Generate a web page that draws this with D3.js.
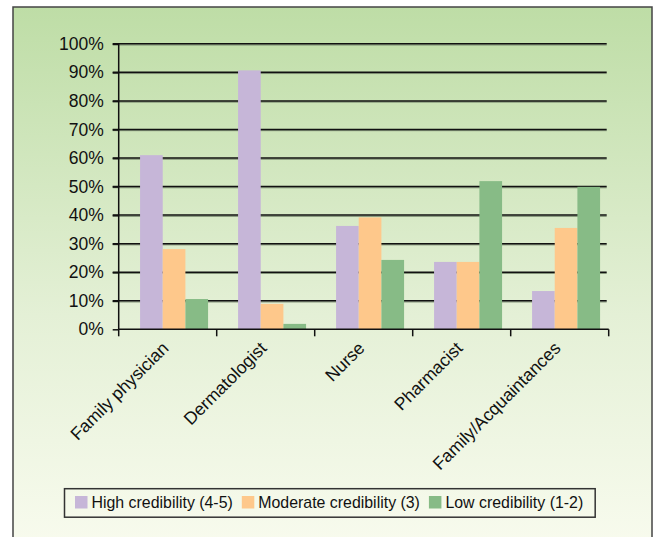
<!DOCTYPE html>
<html>
<head>
<meta charset="utf-8">
<script src="https://cdn.jsdelivr.net/npm/d3@7"></script>
<style>
  body { margin: 0; background: #fff; }
  svg text { font-family: "Liberation Sans", Arial, Helvetica, sans-serif; fill: #111; }
</style>
</head>
<body>
<script>
var categories = ["Family physician", "Dermatologist", "Nurse", "Pharmacist", "Family/Acquaintances"];
var seriesNames = ["High credibility (4-5)", "Moderate credibility (3)", "Low credibility (1-2)"];
var highValues = [61.0, 90.7, 36.2, 23.6, 13.4];
var moderateValues = [28.1, 8.9, 39.2, 23.6, 35.5];
var lowValues = [10.6, 1.9, 24.3, 51.9, 49.9];
var yTicks = [0, 10, 20, 30, 40, 50, 60, 70, 80, 90, 100];
var colors = ["#c6b6d8", "#fec88b", "#87bb86"];

function init(){
    var w = 653;
    var h = 537;
    var left = 118.7, right = 608.7, top = 43.8, bottom = 329.3;

    var dataset = categories.map(function(c, i) {
        return { name: c, values: [highValues[i], moderateValues[i], lowValues[i]] };
    });

    var svg = d3.select("body")
                .append("svg")
                .attr("width", w)
                .attr("height", h);

    var defs = svg.append("defs");
    var grad = defs.append("linearGradient")
                   .attr("id", "bg")
                   .attr("x1", 0).attr("y1", 0)
                   .attr("x2", 0).attr("y2", 1);
    grad.append("stop").attr("offset", "0%").attr("stop-color", "#bedda6");
    grad.append("stop").attr("offset", "55%").attr("stop-color", "#e4f0d6");
    grad.append("stop").attr("offset", "100%").attr("stop-color", "#fafcf0");

    // chart frame (runs off the right and bottom of the picture)
    svg.append("rect")
       .attr("x", 13).attr("y", 7)
       .attr("width", 652 - 13).attr("height", 560)
       .attr("fill", "url(#bg)")
       .attr("stroke", "#444")
       .attr("stroke-width", 1.5);

    var yScale = d3.scaleLinear()
                   .domain([0, 100])
                   .range([bottom, top]);

    var xScale = d3.scaleBand()
                   .domain(categories)
                   .range([left, right]);

    var bw = xScale.bandwidth();
    var x1 = d3.scaleBand()
               .domain(d3.range(seriesNames.length))
               .range([bw * 0.218, bw * 0.912]);

    // gridlines with a soft shadow
    var grid = svg.append("g");
    grid.selectAll("line.shadow")
        .data(yTicks.slice(1))
        .enter()
        .append("line")
        .attr("class", "shadow")
        .attr("x1", left - 6).attr("x2", right - 2)
        .attr("y1", function(d) { return yScale(d) + 1.2; })
        .attr("y2", function(d) { return yScale(d) + 1.2; })
        .attr("stroke", "#7a8a70")
        .attr("stroke-width", 1);
    grid.selectAll("line.major")
        .data(yTicks.slice(1))
        .enter()
        .append("line")
        .attr("class", "major")
        .attr("x1", left - 6).attr("x2", right - 2)
        .attr("y1", function(d) { return yScale(d); })
        .attr("y2", function(d) { return yScale(d); })
        .attr("stroke", "#111")
        .attr("stroke-width", 1.5);

    // bars
    var groups = svg.selectAll("g.cat")
                    .data(dataset)
                    .enter()
                    .append("g")
                    .attr("class", "cat")
                    .attr("transform", function(d) { return "translate(" + xScale(d.name) + ",0)"; });

    groups.selectAll("rect")
          .data(function(d) { return d.values; })
          .enter()
          .append("rect")
          .attr("x", function(d, i) { return x1(i); })
          .attr("y", function(d) { return yScale(d); })
          .attr("width", x1.bandwidth())
          .attr("height", function(d) { return bottom - yScale(d); })
          .attr("fill", function(d, i) { return colors[i]; });

    // y axis
    var yAxis = d3.axisLeft(yScale)
                  .tickValues(yTicks)
                  .tickSize(6)
                  .tickPadding(9)
                  .tickFormat(function(d) { return d + "%"; });
    var gy = svg.append("g")
                .attr("transform", "translate(" + left + ",0)")
                .call(yAxis);
    gy.select(".domain").remove();
    gy.selectAll("line").attr("stroke", "#111").attr("stroke-width", 1.5);
    gy.selectAll("text")
      .style("font-size", "17.5px")
      .attr("fill", "#111");
    svg.append("line")
       .attr("x1", left).attr("x2", left)
       .attr("y1", top).attr("y2", bottom)
       .attr("stroke", "#111").attr("stroke-width", 1.5);

    // x axis
    svg.append("line")
       .attr("x1", left).attr("x2", right)
       .attr("y1", bottom).attr("y2", bottom)
       .attr("stroke", "#111").attr("stroke-width", 1.5);
    var bounds = categories.map(function(c) { return xScale(c); }).concat([xScale.range()[1]]);
    svg.selectAll("line.xtick")
       .data(bounds)
       .enter()
       .append("line")
       .attr("class", "xtick")
       .attr("x1", function(d) { return d; })
       .attr("x2", function(d) { return d; })
       .attr("y1", bottom).attr("y2", bottom + 7)
       .attr("stroke", "#111").attr("stroke-width", 1.5);

    svg.selectAll("text.xlab")
       .data(categories)
       .enter()
       .append("text")
       .attr("class", "xlab")
       .attr("text-anchor", "end")
       .style("font-size", "17.6px")
       .attr("transform", function(d) {
            var cx = xScale(d) + bw / 2 + 2;
            return "translate(" + cx + "," + (bottom + 20) + ") rotate(-45)";
       })
       .text(function(d) { return d; });

    // legend
    var legend = svg.append("g");
    var lx = 75, ly = 502;
    var items = legend.selectAll("g")
                      .data(seriesNames)
                      .enter()
                      .append("g");
    items.append("rect")
         .attr("width", 12.5).attr("height", 12.5)
         .attr("y", ly - 6)
         .attr("fill", function(d, i) { return colors[i]; });
    items.append("text")
         .attr("x", 16.5)
         .attr("y", ly + 5.5)
         .style("font-size", "15.9px")
         .text(function(d) { return d; });
    var cursor = lx;
    items.each(function() {
        var g = d3.select(this);
        g.attr("transform", "translate(" + cursor + ",0)");
        cursor += 16.5 + g.select("text").node().getComputedTextLength() + 9;
    });
    legend.insert("rect", ":first-child")
          .attr("x", 64.5).attr("y", 488.7)
          .attr("width", cursor - 9 + 12 - 64.5)
          .attr("height", 28.5)
          .attr("fill", "none")
          .attr("stroke", "#333")
          .attr("stroke-width", 1.5);
}
window.onload = init;
</script>
</body>
</html>
